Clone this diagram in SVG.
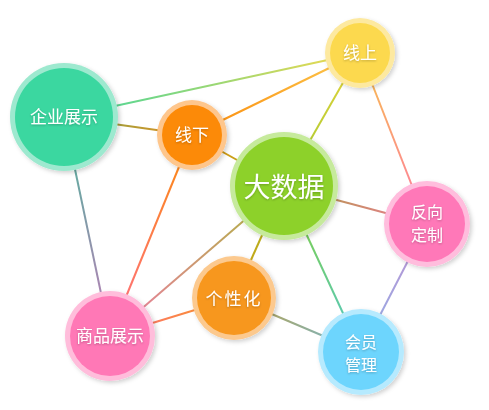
<svg xmlns="http://www.w3.org/2000/svg" width="489" height="410" viewBox="0 0 489 410">
<style>
.lbl{font-family:"Noto Sans CJK SC","Noto Sans",sans-serif;fill:#fff;text-anchor:middle;font-size:17px;filter:url(#ts)}
.two{font-size:16px}
.big{font-size:27px}
.conn line{stroke-width:2;fill:none}
</style>
<defs>
<filter id="sh" x="-20%" y="-20%" width="150%" height="150%"><feDropShadow dx="2" dy="2" stdDeviation="2" flood-color="#000" flood-opacity="0.18"/></filter>
<filter id="ts" x="-20%" y="-20%" width="140%" height="160%"><feDropShadow dx="0" dy="1" stdDeviation="0.8" flood-color="#000" flood-opacity="0.25"/></filter>
<linearGradient id="g1" gradientUnits="userSpaceOnUse" x1="64" y1="117" x2="360" y2="53"><stop offset="0" stop-color="#3dd6a0"/><stop offset="1" stop-color="#f5d94a"/></linearGradient>
<linearGradient id="g2" gradientUnits="userSpaceOnUse" x1="64" y1="117" x2="192" y2="135"><stop offset="0" stop-color="#7aa84a"/><stop offset="1" stop-color="#e89020"/></linearGradient>
<linearGradient id="g3" gradientUnits="userSpaceOnUse" x1="64" y1="117" x2="110" y2="336"><stop offset="0" stop-color="#4ab89a"/><stop offset="1" stop-color="#c07ab8"/></linearGradient>
<linearGradient id="g4" gradientUnits="userSpaceOnUse" x1="192" y1="135" x2="360" y2="53"><stop offset="0" stop-color="#fb8a0a"/><stop offset="1" stop-color="#fcc94f"/></linearGradient>
<linearGradient id="g5" gradientUnits="userSpaceOnUse" x1="192" y1="135" x2="284" y2="186"><stop offset="0" stop-color="#e8900a"/><stop offset="1" stop-color="#a4b028"/></linearGradient>
<linearGradient id="g6" gradientUnits="userSpaceOnUse" x1="192" y1="135" x2="110" y2="336"><stop offset="0" stop-color="#fb8a0a"/><stop offset="1" stop-color="#ff6e8a"/></linearGradient>
<linearGradient id="g7" gradientUnits="userSpaceOnUse" x1="360" y1="53" x2="284" y2="186"><stop offset="0" stop-color="#e6d43a"/><stop offset="1" stop-color="#a0c830"/></linearGradient>
<linearGradient id="g8" gradientUnits="userSpaceOnUse" x1="360" y1="53" x2="427" y2="224"><stop offset="0" stop-color="#f7c14a"/><stop offset="1" stop-color="#ff78a6"/></linearGradient>
<linearGradient id="g9" gradientUnits="userSpaceOnUse" x1="284" y1="186" x2="427" y2="224"><stop offset="0" stop-color="#a8a040"/><stop offset="1" stop-color="#f07898"/></linearGradient>
<linearGradient id="g10" gradientUnits="userSpaceOnUse" x1="284" y1="186" x2="234" y2="298"><stop offset="0" stop-color="#a8b828"/><stop offset="1" stop-color="#d0a010"/></linearGradient>
<linearGradient id="g11" gradientUnits="userSpaceOnUse" x1="284" y1="186" x2="110" y2="336"><stop offset="0" stop-color="#a8b838"/><stop offset="1" stop-color="#f07aa8"/></linearGradient>
<linearGradient id="g12" gradientUnits="userSpaceOnUse" x1="284" y1="186" x2="361" y2="352"><stop offset="0" stop-color="#88d030"/><stop offset="1" stop-color="#50c8d0"/></linearGradient>
<linearGradient id="g13" gradientUnits="userSpaceOnUse" x1="234" y1="298" x2="110" y2="336"><stop offset="0" stop-color="#f7971d"/><stop offset="1" stop-color="#ff6e80"/></linearGradient>
<linearGradient id="g14" gradientUnits="userSpaceOnUse" x1="234" y1="298" x2="361" y2="352"><stop offset="0" stop-color="#c0a040"/><stop offset="1" stop-color="#70b8d8"/></linearGradient>
<linearGradient id="g15" gradientUnits="userSpaceOnUse" x1="427" y1="224" x2="361" y2="352"><stop offset="0" stop-color="#c090d0"/><stop offset="1" stop-color="#90b0e8"/></linearGradient>
</defs>
<rect width="489" height="410" fill="#fff"/>
<g id="connectors" class="conn">
<line x1="64" y1="117" x2="360" y2="53" stroke="url(#g1)"/>
<line x1="64" y1="117" x2="192" y2="135" stroke="url(#g2)"/>
<line x1="64" y1="117" x2="110" y2="336" stroke="url(#g3)"/>
<line x1="192" y1="135" x2="360" y2="53" stroke="url(#g4)"/>
<line x1="192" y1="135" x2="284" y2="186" stroke="url(#g5)"/>
<line x1="192" y1="135" x2="110" y2="336" stroke="url(#g6)"/>
<line x1="360" y1="53" x2="284" y2="186" stroke="url(#g7)"/>
<line x1="360" y1="53" x2="427" y2="224" stroke="url(#g8)"/>
<line x1="284" y1="186" x2="427" y2="224" stroke="url(#g9)"/>
<line x1="284" y1="186" x2="234" y2="298" stroke="url(#g10)"/>
<line x1="284" y1="186" x2="110" y2="336" stroke="url(#g11)"/>
<line x1="284" y1="186" x2="361" y2="352" stroke="url(#g12)"/>
<line x1="234" y1="298" x2="110" y2="336" stroke="url(#g13)"/>
<line x1="234" y1="298" x2="361" y2="352" stroke="url(#g14)"/>
<line x1="427" y1="224" x2="361" y2="352" stroke="url(#g15)"/>
</g>
<g id="qiye">
<circle cx="64" cy="117" r="54" fill="#9de9cf" filter="url(#sh)"/>
<circle cx="64" cy="117" r="49" fill="#3bd7a0"/>
<text class="lbl" x="64" y="123">企业展示</text>
</g>
<g id="xianxia">
<circle cx="192" cy="135" r="35" fill="#fec68c" filter="url(#sh)"/>
<circle cx="192" cy="135" r="30" fill="#fc8a08"/>
<text class="lbl" x="192" y="141">线下</text>
</g>
<g id="xianshang">
<circle cx="360" cy="53" r="35" fill="#fde9a0" filter="url(#sh)"/>
<circle cx="360" cy="53" r="30" fill="#fcd94e"/>
<text class="lbl" x="360" y="59">线上</text>
</g>
<g id="dashuju">
<circle cx="284" cy="186" r="54" fill="#c6ea9c" filter="url(#sh)"/>
<circle cx="284" cy="186" r="49" fill="#8dd12a"/>
<text class="lbl big" x="284" y="197">大数据</text>
</g>
<g id="fanxiang">
<circle cx="427" cy="224" r="43" fill="#ffbddd" filter="url(#sh)"/>
<circle cx="427" cy="224" r="38" fill="#ff78b8"/>
<text class="lbl two" x="427" y="218"><tspan x="427" y="218">反向</tspan><tspan x="427" y="241">定制</tspan></text>
</g>
<g id="shangpin">
<circle cx="110" cy="336" r="45" fill="#ffbddb" filter="url(#sh)"/>
<circle cx="110" cy="336" r="40" fill="#ff78b6"/>
<text class="lbl" x="110" y="342">商品展示</text>
</g>
<g id="gexinghua">
<circle cx="234" cy="298" r="42" fill="#fcc98e" filter="url(#sh)"/>
<circle cx="234" cy="298" r="37" fill="#f7971e"/>
<text class="lbl" x="234" y="305" letter-spacing="2">个性化</text>
</g>
<g id="huiyuan">
<circle cx="361" cy="352" r="43" fill="#b6eafe" filter="url(#sh)"/>
<circle cx="361" cy="352" r="38" fill="#6dd5fd"/>
<text class="lbl two" x="361" y="348"><tspan x="361" y="348">会员</tspan><tspan x="361" y="371">管理</tspan></text>
</g>
</svg>
